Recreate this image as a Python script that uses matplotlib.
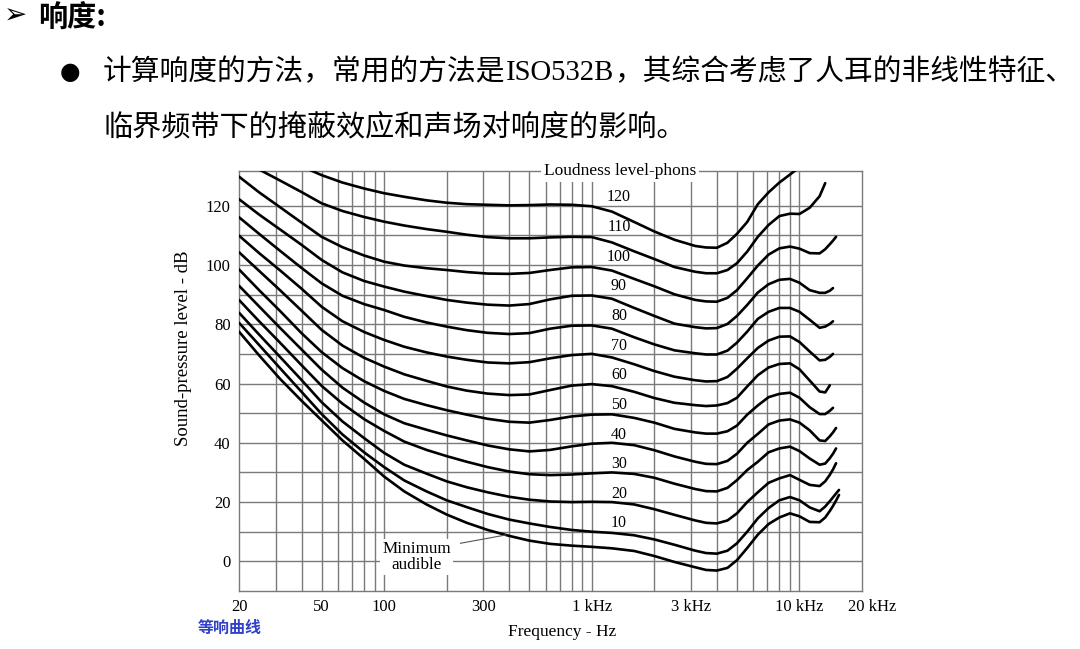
import numpy as np
import matplotlib
matplotlib.use("Agg")
import matplotlib.pyplot as plt
from matplotlib.ticker import NullLocator
from matplotlib.transforms import ScaledTranslation

nan = np.nan

# frequency grid (Hz) shared by every contour
FREQ = [20, 25, 31.5, 40, 50, 63, 80, 100, 125, 160, 200, 250, 315, 400, 500,
        630, 800, 1000, 1250, 1600, 2000, 2500, 3150, 3550, 4000, 4500, 5000, 5600,
        6300, 7100, 8000, 9000, 10000, 11200, 12500, 13300, 14000, 14500, 15000, 15500]

PHON_LEVELS = [120, 110, 100, 90, 80, 70, 60, 50, 40, 30, 20, 10]

spl_120 = [145, 141, 137, 133.3, 130.3, 127.8, 125.8, 124.2, 123, 121.8, 121, 120.5,
           120.3, 120.1, 120.2, 120.4, 120.3, 119.8, 118, 114.5, 111.3, 108.5, 106.4,
           105.9, 105.8, 107.5, 110.5, 114.5, 120.5, 124.5, 127.8, 130.5, 133, nan, nan,
           nan, nan, nan, nan, nan]
spl_110 = [136.5, 132.2, 128.5, 124.6, 120.8, 118.2, 116.2, 114.6, 113.3, 112.1, 111.2,
           110.2, 109.4, 109, 109, 109.3, 109.5, 109.4, 107.6, 104.6, 102, 99.3, 97.7,
           97.2, 97.2, 98.3, 100.6, 104.5, 109.5, 113.5, 116.5, 117.3, 117.2, 119.3,
           123.2, 127.6, nan, nan, nan, nan]
spl_100 = [129.8, 124.5, 119.5, 114.3, 109.5, 106, 103.2, 101.1, 99.8, 98.9, 98.3, 97.6,
           97.1, 97, 97.3, 98.3, 99.2, 99.3, 98.1, 95.3, 92.8, 90.1, 88.2, 87.7, 87.6,
           88.9, 91.5, 95.5, 99.8, 103.5, 105.6, 106.2, 105.5, 104, 103.9, 105.3, 107,
           108.2, 109.5, nan]
spl_90 = [122.2, 117, 112, 106.8, 101.7, 97.5, 94.6, 92.7, 91, 89.5, 88.2, 87.3, 86.6,
          86.3, 86.8, 88.4, 89.6, 89.7, 88.6, 85.5, 82.8, 80.2, 79, 78.6, 78.7, 80.1,
          82.8, 86.5, 90.7, 93.5, 95, 95.3, 94, 91.5, 90.6, 90.6, 91.3, 92.2, nan, nan]
spl_80 = [116.1, 110.5, 104.8, 99, 93.8, 89.6, 86.8, 84.8, 82.5, 80.6, 79.2, 78, 77.1,
          76.7, 77, 78.5, 79.5, 79.6, 78.5, 75.6, 73.2, 71.2, 70.2, 69.8, 69.8, 71.1,
          73.8, 77.5, 81.8, 84.2, 85.5, 85.5, 84.2, 81.5, 78.8, 79.2, 80.1, 81, nan, nan]
spl_70 = [109.9, 104, 98.2, 92, 85.9, 81, 77.4, 74.7, 72.4, 70.5, 69.1, 68, 67.1, 66.8,
          67.2, 68.5, 69.6, 70, 68.8, 66.5, 64.2, 62.3, 61.1, 60.7, 60.8, 62.2, 65,
          68.5, 72, 74.5, 75.8, 75.9, 74, 70.8, 67.8, 68, 69, 70, nan, nan]
spl_60 = [104.3, 98, 91.5, 84.6, 78.1, 72.8, 68.7, 65.7, 63.1, 60.9, 59, 57.6, 56.6,
          56.1, 56.3, 57.8, 59.3, 59.8, 59.1, 57.2, 55.1, 53.5, 52.7, 52.4, 52.6, 53.4,
          55.2, 59, 62.8, 65.4, 66.6, 66.8, 64.8, 61, 57.3, 57, 59.4, nan, nan, nan]
spl_50 = [98.5, 91.5, 84.5, 77, 70.6, 65.2, 60.8, 57.5, 54.8, 52.7, 51, 49.5, 48.1,
          47.1, 46.8, 47.7, 48.9, 49.5, 49.6, 48.4, 46.8, 44.7, 43.5, 43.1, 43.1, 43.9,
          45.8, 49.5, 52.6, 55.4, 56.5, 56.9, 55.2, 52, 49.7, 49.7, 50.8, 51.8, nan, nan]
spl_40 = [93, 86, 78.8, 71.5, 64.7, 58.6, 53.6, 49.6, 46.6, 44.4, 42.5, 40.8, 39.1,
          37.8, 37.1, 37.6, 38.8, 39.7, 40, 39.2, 37.5, 35.4, 33.6, 32.9, 32.8, 33.9,
          36.3, 40, 43, 46.2, 47.5, 47.9, 46.8, 44.2, 40.8, 40.6, 42.2, 43.5, 45, nan]
spl_30 = [88.2, 81, 73.8, 66.2, 59.2, 53.2, 48, 44, 40.4, 37.6, 35.5, 33.6, 31.8, 30.3,
          29.4, 29.1, 29.3, 29.7, 30, 29.5, 28.2, 26.2, 24.4, 23.7, 23.6, 24.8, 27.4,
          30.8, 33.6, 36.8, 38.1, 38.7, 37.2, 34.7, 32.6, 33, 34.8, 36.3, 38.1, nan]
spl_20 = [83.9, 76.5, 69, 61.2, 53.7, 47.2, 41.6, 36.6, 32.6, 29.6, 27, 25, 23.3, 21.8,
          20.8, 20.2, 20, 20.1, 20, 19.2, 17.6, 15.7, 13.8, 13, 12.8, 13.8, 16.2, 20,
          23.3, 26.5, 28, 29.1, 27.5, 25.8, 25.4, 27, 29.2, 31, 33.1, nan]
spl_10 = [80.5, 73, 65.2, 57.2, 49.7, 42.8, 36.8, 31.8, 27.3, 23.6, 20.6, 18.3, 16,
          14.1, 12.8, 11.6, 10.6, 10, 9.6, 8.8, 7.4, 5.6, 3.6, 2.8, 2.6, 3.6, 6.1, 10,
          14.5, 18, 20.6, 21.7, 20.6, 18.2, 16.9, 18.5, 20.3, 21.6, 22.9, 24.1]
spl_min = [77.5, 69.5, 61.6, 54.2, 47.6, 40.8, 34.6, 28.6, 23.6, 19.2, 15.8, 13, 10.6,
           8.6, 7, 5.9, 5.3, 4.9, 4.4, 3.5, 1.8, -0.2, -2, -2.9, -3.1, -2.2, 0.4, 4.5,
           9, 12.6, 14.8, 16.2, 15.2, 13.3, 13.2, 14.8, 17, 18.7, 20.5, 22.4]

CONTOURS = [spl_120, spl_110, spl_100, spl_90, spl_80, spl_70, spl_60, spl_50,
            spl_40, spl_30, spl_20, spl_10]

GRID_FREQS = [30, 40, 50, 60, 70, 80, 90, 100, 200, 300, 400, 500, 600, 700, 800,
              900, 1000, 2000, 3000, 4000, 5000, 6000, 7000, 8000, 9000, 10000]
GRID_SPL = list(range(0, 130, 10))

XTICKS = [20, 50, 100, 300, 1000, 3000, 10000, 20000]
XTICK_LABELS = ['20', '50', '100', '300', '1 kHz', '3 kHz', '10 kHz', '20 kHz']
YTICKS = [0, 20, 40, 60, 80, 100, 120]

HEADER = '响度:'
LINE1_PARTS = ['计算响度的方法，常用的方法是', 'ISO532B', '，其综合考虑了人耳的非线性特征、']
LINE2 = '临界频带下的掩蔽效应和声场对响度的影响。'
CAPTION = '等响曲线'

W, H = 1080, 649
SERIF = 'Liberation Serif'
CJK = ['Noto Sans CJK SC', 'DejaVu Sans']

fig = plt.figure(figsize=(W / 100, H / 100), dpi=100)
fig.patch.set_facecolor('white')

ax = fig.add_axes([239 / W, 58 / H, 623 / W, 420 / H])
ax.set_xscale('log')
ax.set_xlim(20, 20000)
ax.set_ylim(-10, 131.7)

grid_kw = dict(color='#7a7a7a', lw=1.0, zorder=1)
for f in GRID_FREQS:
    ax.axvline(f, **grid_kw)
for s in GRID_SPL:
    ax.axhline(s, **grid_kw)
for sp in ax.spines.values():
    sp.set_color('#7a7a7a')
    sp.set_linewidth(1.0)

line_kw = dict(color='black', lw=1.9, solid_joinstyle='round',
               solid_capstyle='round', zorder=3)
for spl in CONTOURS:
    ax.plot(FREQ, spl, **line_kw)
ax.plot(FREQ, spl_min, **line_kw)

for level in PHON_LEVELS:
    ax.text(1350, level + 2.8, str(level), ha='center', va='center',
            fontsize=11.5, family=SERIF, zorder=4)

ax.set_xticks(XTICKS)
ax.set_xticklabels(XTICK_LABELS)
ax.xaxis.set_minor_locator(NullLocator())
ax.set_yticks(YTICKS)
ax.yaxis.set_minor_locator(NullLocator())
ax.tick_params(length=0, pad=6, labelsize=12)
for lab in ax.get_xticklabels() + ax.get_yticklabels():
    lab.set_family(SERIF)
last = ax.get_xticklabels()[-1]
last.set_transform(last.get_transform() + ScaledTranslation(0.10, 0, fig.dpi_scale_trans))

ax.text(0.612, 1.0, 'Loudness level-phons', transform=ax.transAxes, ha='center',
        va='center', fontsize=12.5, family=SERIF, zorder=6, clip_on=False,
        bbox=dict(fc='white', ec='none', pad=2))

ax.text(143, 1.5, 'Minimum\naudible', ha='center', va='center', fontsize=12.3,
        family=SERIF, linespacing=0.95, zorder=5,
        bbox=dict(fc='white', ec='none', pad=1.5))
ax.plot([233, 385], [6.1, 8.9], color='#555555', lw=0.8, zorder=4)

fig.text(183 / W, 1 - 348 / H, 'Sound-pressure level - dB', rotation=90,
         ha='center', va='center', fontsize=13.5, family=SERIF)
fig.text(562 / W, 1 - 632 / H, 'Frequency - Hz', ha='center', va='center',
         fontsize=12.5, family=SERIF)
fig.text(230 / W, 1 - 628 / H, CAPTION, ha='center', va='center', fontsize=11.5,
         color='#3040c8', family=CJK, weight='bold')

# slide text above the chart
fig.text(4 / W, 1 - 16 / H, '➢', ha='left', va='center', fontsize=20,
         family='DejaVu Sans')
fig.text(38 / W, 1 - 27 / H, HEADER, ha='left', va='baseline', fontsize=21,
         weight='bold', family=CJK)
fig.text(70 / W, 1 - 72 / H, '●', ha='center', va='center', fontsize=17,
         family='DejaVu Sans')

renderer = fig.canvas.get_renderer()
x = 103
for part in LINE1_PARTS:
    fam = [SERIF] if part.isascii() else CJK
    t = fig.text(x / W, 1 - 80 / H, part, ha='left', va='baseline',
                 fontsize=20.7, family=fam)
    x += t.get_window_extent(renderer).width
fig.text(103 / W, 1 - 135 / H, LINE2, ha='left', va='baseline', fontsize=21,
         family=CJK)

fig.savefig('out.png', dpi=100, facecolor='white')
